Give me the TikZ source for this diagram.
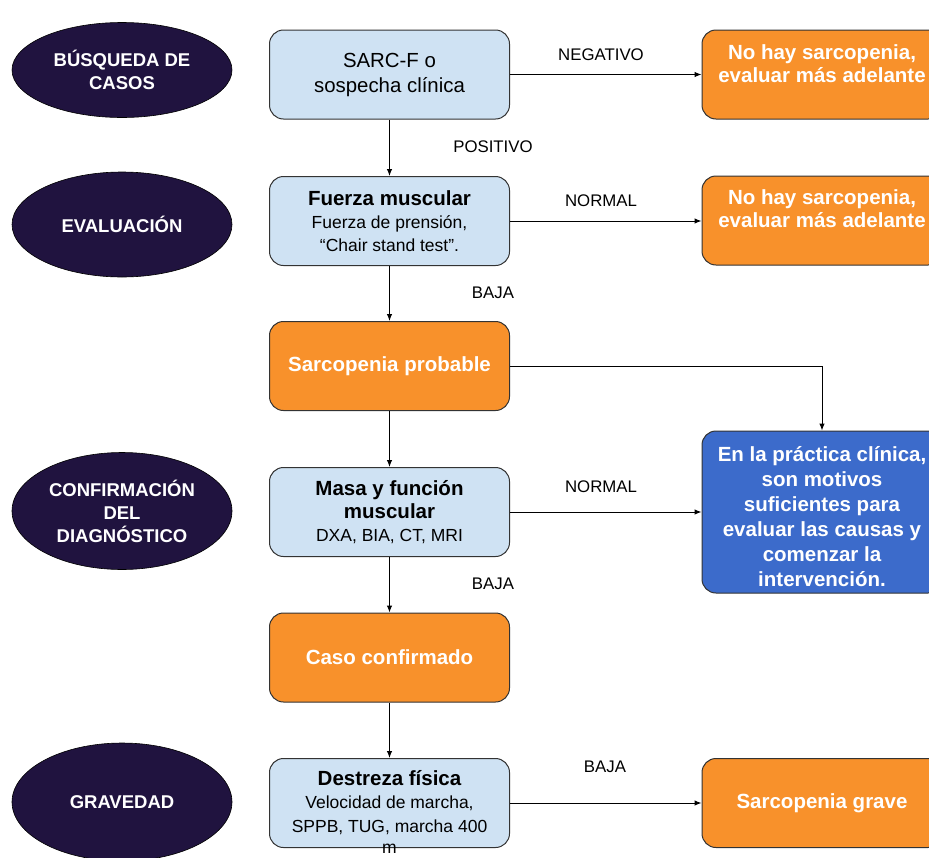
\documentclass[tikz,border=0pt]{standalone}
\usepackage{fontspec}
\setmainfont{Liberation Sans}
\usepackage{tikz}
\usetikzlibrary{shapes.geometric,arrows.meta}

\definecolor{navy}{HTML}{20133F}
\definecolor{naranjo}{HTML}{F8912B}
\definecolor{celeste}{HTML}{CFE2F3}
\definecolor{azul}{HTML}{3C6BCB}
\definecolor{borde}{HTML}{333333}

\tikzset{
  etapa/.style={ellipse, fill=navy, draw=black, line width=0.6pt, minimum width=220pt,
    inner sep=0pt, text=white, align=center, font=\bfseries\fontsize{18.5}{23}\selectfont},
  caja/.style={rectangle, rounded corners=14pt, draw=borde, line width=1pt,
    minimum width=240pt, minimum height=89pt, inner sep=0pt, align=center},
  celestebox/.style={caja, fill=celeste, font=\fontsize{17.5}{23}\selectfont},
  naranjabox/.style={caja, fill=naranjo, text=white, font=\bfseries\fontsize{20.5}{23}\selectfont},
  texto/.style={align=center, inner sep=0pt, text=white, font=\bfseries\fontsize{20.5}{23}\selectfont},
  flecha/.style={-{Latex[length=7pt,width=5.5pt]}, line width=1pt},
  etiqueta/.style={font=\fontsize{16.8}{19}\selectfont}
}

\begin{document}
\begin{tikzpicture}[x=1pt, y=-1pt]
\useasboundingbox (0,0) rectangle (929,857);
\clip (0,0) rectangle (929,857);

% Etapas
\node[etapa, minimum height=95pt] (e1) at (122,70) {BÚSQUEDA DE\\CASOS};
\node[etapa, minimum height=105pt] (e2) at (122,224.5) {EVALUACIÓN};
\node[etapa, minimum height=117pt] (e3) at (122,511) {CONFIRMACIÓN\\DEL\\DIAGNÓSTICO};
\node[etapa, minimum height=118pt] (e4) at (122,802) {GRAVEDAD};

% Columna central
\node[celestebox, font=\fontsize{20.4}{25}\selectfont] (b1) at (389.5,74.5) {SARC-F o\\sospecha clínica};
\node[celestebox] (b2) at (389.5,221) {{\bfseries\fontsize{20.5}{23}\selectfont Fuerza muscular}\\Fuerza de prensión,\\“Chair stand test”.};
\node[naranjabox] (b3) at (389.5,366) {Sarcopenia probable};
\node[celestebox] (b4) at (389.5,512) {{\bfseries\fontsize{20.5}{24}\selectfont Masa y función}\\{\bfseries\fontsize{20.5}{23}\selectfont muscular}\\DXA, BIA, CT, MRI};
\node[naranjabox] (b5) at (389.5,657.5) {Caso confirmado};
\node[celestebox] (b6) at (389.5,803) {};
\node[texto, text=black, font=\fontsize{17.5}{23.5}\selectfont] (t6) at (389.5,812)
  {{\bfseries\fontsize{20.5}{23}\selectfont Destreza física}\\Velocidad de marcha,\\SPPB, TUG, marcha 400\\[-2pt]m};

% Columna derecha
\node[naranjabox] (r1) at (822,74.5) {};
\node[texto] (t1) at (822,63.5) {No hay sarcopenia,\\evaluar más adelante};
\node[naranjabox] (r2) at (822,220.5) {};
\node[texto] (t2) at (822,208.5) {No hay sarcopenia,\\evaluar más adelante};
\node[caja, fill=azul, minimum height=162pt] (r3) at (822,512) {};
\node[texto, font=\bfseries\fontsize{20.5}{25}\selectfont] (t3) at (822,517)
  {En la práctica clínica,\\son motivos\\suficientes para\\evaluar las causas y\\comenzar la\\intervención.};
\node[naranjabox] (r4) at (822,803) {Sarcopenia grave};

% Flechas
\draw[flecha] (b1) -- (r1);
\draw[flecha] (b1) -- (b2);
\draw[flecha] (b2.east) -- (b2.east -| r2.west);
\draw[flecha] (b2) -- (b3);
\draw[flecha] (b3.east) -| (r3.north);
\draw[flecha] (b3) -- (b4);
\draw[flecha] (b4) -- (r3);
\draw[flecha] (b4) -- (b5);
\draw[flecha] (b5) -- (b6);
\draw[flecha] (b6) -- (r4);

% Etiquetas
\node[etiqueta] (lneg) at (601,55) {NEGATIVO};
\node[etiqueta] (lpos) at (493,147) {POSITIVO};
\node[etiqueta] (lnor1) at (601,201) {NORMAL};
\node[etiqueta] (lbaj1) at (493,293) {BAJA};
\node[etiqueta] (lnor2) at (601,487) {NORMAL};
\node[etiqueta] (lbaj2) at (493,584) {BAJA};
\node[etiqueta] (lbaj3) at (605,767) {BAJA};
\end{tikzpicture}
\end{document}
